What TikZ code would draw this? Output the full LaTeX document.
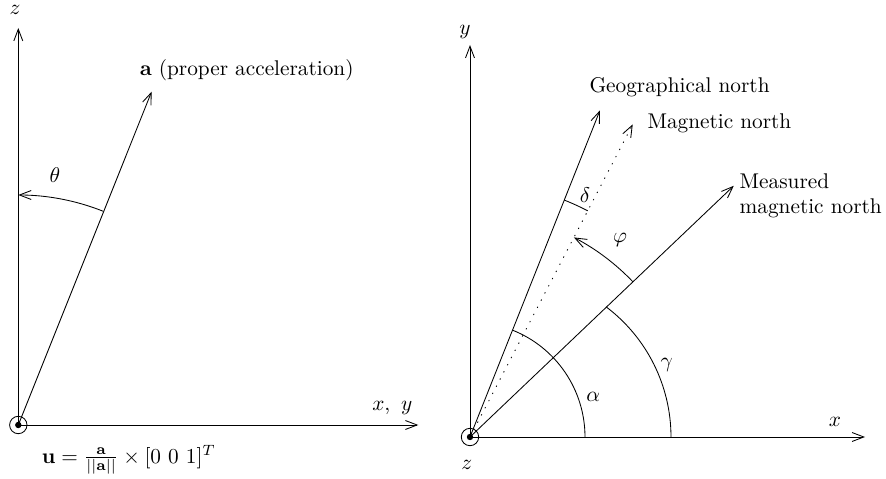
\documentclass[tikz,border=0pt]{standalone}
\usetikzlibrary{arrows.meta}
\tikzset{
  magline/.style={dash pattern=on 0.6pt off 3.2pt}
}
\begin{document}
\begin{tikzpicture}[x=0.01651cm, y=0.01651cm, >={Straight Barb[length=5.5pt, width=4.2pt]}]
\useasboundingbox (-18.3,-53) rectangle (867.7,425);
% left picture
\coordinate (o1) at (0,0);
\coordinate (z1) at (0,397);
\coordinate (x1) at (400,0);
\coordinate (a1) at (68.2:359);
\draw[->] (o1) -- (z1);
\draw[->] (o1) -- (x1);
\draw[->] (o1) -- (a1);
\draw (o1) circle[radius=8.7];
\fill (o1) circle[radius=3.2];
\draw[->] (68.4:230) arc[start angle=68.4, end angle=90, radius=230];
\node (zlab1) at (-3.3,415) {$z$};
\node (xlab1) at (374,17) {$x,\ y$};
\node[anchor=west] (alab) at (114,355) {$\mathbf{a}$ (proper acceleration)};
\node (thlab) at (36.7,250) {$\theta$};
\node[anchor=base west] (ulab) at (16,-38) {$\mathbf{u}=\frac{\mathbf{a}}{||\mathbf{a}||}\times[0\ 0\ 1]^T$};
% right picture
\begin{scope}[shift={(451.7,-12)}]
\coordinate (o2) at (0,0);
\coordinate (y2) at (0,392);
\coordinate (x2) at (395,0);
\coordinate (geo) at (68.3:351.6);
\coordinate (mag) at (62.5:352.5);
\coordinate (meas) at (43.6:364.3);
\draw[->] (o2) -- (y2);
\draw[->] (o2) -- (x2);
\draw[->] (o2) -- (geo);
\draw[->, magline] (o2) -- (mag);
\draw[->] (o2) -- (meas);
\draw (o2) circle[radius=8.7];
\fill (o2) circle[radius=3.2];
\draw (115,0) arc[start angle=0, end angle=68.3, radius=115];
\draw (201,0) arc[start angle=0, end angle=53, radius=163];
\draw[->] (43.6:225) arc[start angle=43.6, end angle=62.5, radius=225];
\draw (68.3:255) arc[start angle=68.3, end angle=62.5, radius=255];
\node (ylab2) at (-5,405) {$y$};
\node (xlab2) at (365,15) {$x$};
\node (zlab2) at (-3.3,-28) {$z$};
\node[anchor=west] (geolab) at (112,350.3) {Geographical north};
\node[anchor=west] (maglab) at (170,313.4) {Magnetic north};
\node[anchor=west, align=left, inner sep=0pt] (measlab) at (269.3,241) {Measured\\magnetic north};
\node (dlab) at (115,242) {$\delta$};
\node (plab) at (150,197) {$\varphi$};
\node (alab2) at (123.3,40) {$\alpha$};
\node (glab) at (196.7,72) {$\gamma$};
\end{scope}
\end{tikzpicture}
\end{document}
